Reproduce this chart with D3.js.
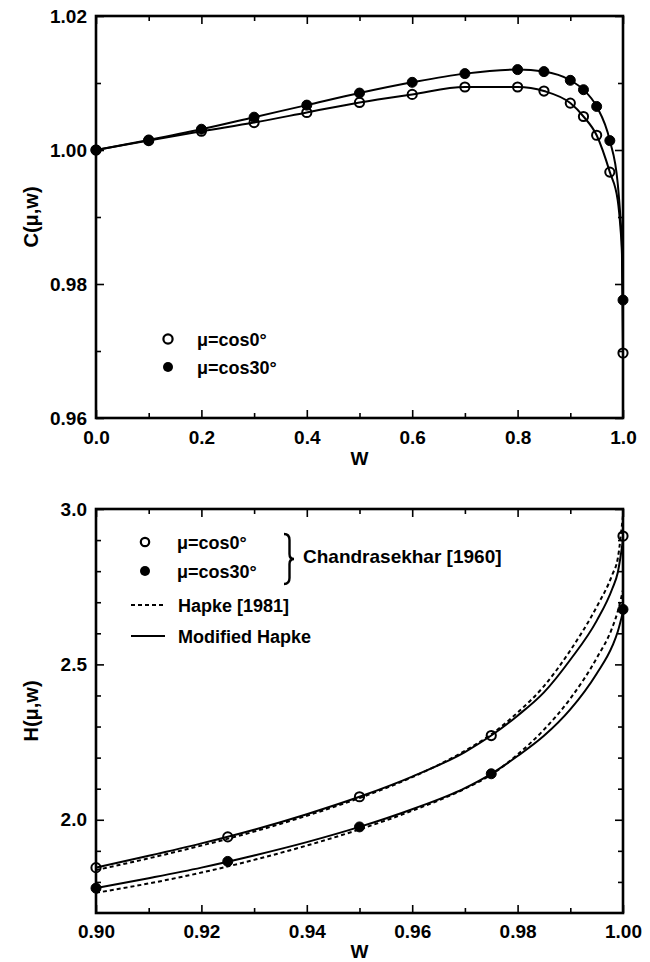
<!DOCTYPE html>
<html>
<head>
<meta charset="utf-8">
<script src="https://cdn.jsdelivr.net/npm/d3@7"></script>
<style>
  html, body { margin: 0; padding: 0; background: #fff; }
  svg { display: block; }
  text { font-family: "Liberation Sans", Arial, Helvetica, sans-serif; font-weight: bold; fill: #000; }
</style>
</head>
<body>
<div id="chart"></div>
<script>
// ---- Upper panel: C(mu, w) against single-scattering albedo w ----
const wTop = [0, 0.1, 0.2, 0.3, 0.4, 0.5, 0.6, 0.7, 0.8, 0.85, 0.9, 0.925, 0.95, 0.975, 1.0];
const cMu0 = [1.000, 1.0014, 1.0028, 1.0041, 1.0056, 1.0071, 1.0083, 1.0094, 1.0094, 1.0088, 1.0070, 1.0050, 1.0022, 0.9967, 0.9697];
const cMu30 = [1.000, 1.0015, 1.0031, 1.0049, 1.0067, 1.0085, 1.0101, 1.0114, 1.0120, 1.0117, 1.0104, 1.0090, 1.0065, 1.0014, 0.9776];
// smooth curves drawn through the markers, with extra points on the steep drop near w = 1
const wTopCurve = [0, 0.1, 0.2, 0.3, 0.4, 0.5, 0.6, 0.7, 0.8, 0.85, 0.9, 0.925, 0.95, 0.975, 0.99, 0.995, 0.998, 1.0];
const cMu0Curve = [1.000, 1.0014, 1.0028, 1.0041, 1.0056, 1.0071, 1.0083, 1.0094, 1.0094, 1.0088, 1.0070, 1.0050, 1.0022, 0.9967, 0.9925, 0.9885, 0.9845, 0.9697];
const cMu30Curve = [1.000, 1.0015, 1.0031, 1.0049, 1.0067, 1.0085, 1.0101, 1.0114, 1.0120, 1.0117, 1.0104, 1.0090, 1.0065, 1.0014, 0.9950, 0.9900, 0.9855, 0.9776];
const topXTicks = [0, 0.2, 0.4, 0.6, 0.8, 1.0];
const topXMinor = [0.1, 0.3, 0.5, 0.7, 0.9];
const topYTicks = [0.96, 0.98, 1.00, 1.02];
const topYMinor = [0.97, 0.99, 1.01];

// ---- Lower panel: H(mu, w) near w = 1 ----
const wBot = [0.90, 0.925, 0.95, 0.975, 1.0];
const hChandraMu0 = [1.846, 1.945, 2.074, 2.271, 2.913];
const hChandraMu30 = [1.780, 1.866, 1.977, 2.148, 2.677];
const wBotCurve = [0.90, 0.91, 0.92, 0.93, 0.94, 0.95, 0.96, 0.97, 0.975, 0.98, 0.985, 0.99, 0.995, 0.998, 0.999, 1.0];
const hHapkeMu0 = [1.838, 1.876, 1.917, 1.962, 2.013, 2.070, 2.137, 2.222, 2.275, 2.345, 2.430, 2.545, 2.685, 2.790, 2.840, 2.980];
const hModMu0 = [1.846, 1.884, 1.924, 1.968, 2.018, 2.074, 2.139, 2.218, 2.271, 2.335, 2.410, 2.515, 2.640, 2.745, 2.795, 2.900];
const hHapkeMu30 = [1.765, 1.795, 1.830, 1.871, 1.917, 1.969, 2.029, 2.100, 2.145, 2.210, 2.290, 2.390, 2.520, 2.620, 2.670, 2.740];
const hModMu30 = [1.780, 1.812, 1.846, 1.885, 1.928, 1.977, 2.034, 2.102, 2.148, 2.205, 2.270, 2.355, 2.470, 2.560, 2.605, 2.670];
const botXTicks = [0.90, 0.92, 0.94, 0.96, 0.98, 1.00];
const botXMinor = [0.91, 0.93, 0.95, 0.97, 0.99];
const botYTicks = [2.0, 2.5, 3.0];
const botYMinor = [1.8, 1.9, 2.1, 2.2, 2.3, 2.4, 2.6, 2.7, 2.8, 2.9];

const W = 650, H = 962;
const svg = d3.select("#chart").append("svg").attr("width", W).attr("height", H);

function frameAxes(g, x, y, o) {
  const [x0, x1] = x.range();
  const [y0, y1] = y.range(); // y0 bottom, y1 top
  const major = 8, minor = 5;
  // bottom axis with labels
  g.append("g").attr("transform", `translate(0,${y0})`)
    .call(d3.axisBottom(x).tickValues(o.xt).tickSizeInner(-major).tickSizeOuter(0)
      .tickPadding(o.xPad).tickFormat(d3.format(o.xf)));
  g.append("g").attr("transform", `translate(0,${y0})`)
    .call(d3.axisBottom(x).tickValues(o.xm).tickSizeInner(-minor).tickSizeOuter(0).tickFormat(""));
  // top axis (ticks only)
  g.append("g").attr("transform", `translate(0,${y1})`)
    .call(d3.axisTop(x).tickValues(o.xt).tickSizeInner(-major).tickSizeOuter(0).tickFormat(""));
  g.append("g").attr("transform", `translate(0,${y1})`)
    .call(d3.axisTop(x).tickValues(o.xm).tickSizeInner(-minor).tickSizeOuter(0).tickFormat(""));
  // left axis with labels
  g.append("g").attr("transform", `translate(${x0},0)`)
    .call(d3.axisLeft(y).tickValues(o.yt).tickSizeInner(-major).tickSizeOuter(0)
      .tickPadding(o.yPad).tickFormat(d3.format(o.yf)));
  g.append("g").attr("transform", `translate(${x0},0)`)
    .call(d3.axisLeft(y).tickValues(o.ym).tickSizeInner(-minor).tickSizeOuter(0).tickFormat(""));
  // right axis (ticks only)
  g.append("g").attr("transform", `translate(${x1},0)`)
    .call(d3.axisRight(y).tickValues(o.yt).tickSizeInner(-major).tickSizeOuter(0).tickFormat(""));
  g.append("g").attr("transform", `translate(${x1},0)`)
    .call(d3.axisRight(y).tickValues(o.ym).tickSizeInner(-minor).tickSizeOuter(0).tickFormat(""));

  g.selectAll(".domain").remove();
  g.selectAll(".tick line").attr("stroke", "#000").attr("stroke-width", 1.6);
  g.selectAll(".tick text").attr("font-size", 19).attr("font-family", null).attr("fill", "#000");
  // plot frame
  g.append("rect").attr("x", x0).attr("y", y1).attr("width", x1 - x0).attr("height", y0 - y1)
    .attr("fill", "none").attr("stroke", "#000").attr("stroke-width", 2.6);
}

function curve(g, x, y, xs, ys, dash) {
  const line = d3.line().x((d, i) => x(xs[i])).y(d => y(d)).curve(d3.curveMonotoneX);
  g.append("path").attr("d", line(ys)).attr("fill", "none").attr("stroke", "#000")
    .attr("stroke-width", 2).attr("stroke-dasharray", dash || null);
}

function markers(g, x, y, xs, ys, filled) {
  g.append("g").selectAll("circle").data(ys).join("circle")
    .attr("cx", (d, i) => x(xs[i])).attr("cy", d => y(d))
    .attr("r", filled ? 5 : 4.6)
    .attr("fill", filled ? "#000" : "none")
    .attr("stroke", "#000").attr("stroke-width", filled ? 1 : 2);
}

// ================= upper panel =================
const xTop = d3.scaleLinear().domain([0, 1]).range([96, 623]);
const yTop = d3.scaleLinear().domain([0.96, 1.02]).range([418, 16]);
const gTop = svg.append("g");
frameAxes(gTop, xTop, yTop, { xt: topXTicks, xm: topXMinor, yt: topYTicks, ym: topYMinor,
  xf: ".1f", yf: ".2f", xPad: 13, yPad: 9 });
curve(gTop, xTop, yTop, wTopCurve, cMu0Curve);
curve(gTop, xTop, yTop, wTopCurve, cMu30Curve);
markers(gTop, xTop, yTop, wTop, cMu0, false);
markers(gTop, xTop, yTop, wTop, cMu30, true);

gTop.append("text").attr("transform", `translate(38,${(16 + 418) / 2}) rotate(-90)`)
  .attr("text-anchor", "middle").attr("font-size", 20).text("C(μ,w)");
gTop.append("text").attr("x", (96 + 623) / 2).attr("y", 465).attr("text-anchor", "middle")
  .attr("font-size", 19).text("W");

// legend
const topLeg = gTop.append("g");
topLeg.append("circle").attr("cx", 168).attr("cy", 339).attr("r", 4.6)
  .attr("fill", "none").attr("stroke", "#000").attr("stroke-width", 2.2);
topLeg.append("circle").attr("cx", 168).attr("cy", 367).attr("r", 5).attr("fill", "#000");
topLeg.append("text").attr("x", 197).attr("y", 346).attr("font-size", 18).text("μ=cos0°");
topLeg.append("text").attr("x", 197).attr("y", 374).attr("font-size", 18).text("μ=cos30°");

// ================= lower panel =================
const xBot = d3.scaleLinear().domain([0.90, 1.00]).range([96, 623]);
const yBot = d3.scaleLinear().domain([1.7, 3.0]).range([913, 509]);
const gBot = svg.append("g");
frameAxes(gBot, xBot, yBot, { xt: botXTicks, xm: botXMinor, yt: botYTicks, ym: botYMinor,
  xf: ".2f", yf: ".1f", xPad: 12, yPad: 9 });
curve(gBot, xBot, yBot, wBotCurve, hHapkeMu0, "4,3");
curve(gBot, xBot, yBot, wBotCurve, hHapkeMu30, "4,3");
curve(gBot, xBot, yBot, wBotCurve, hModMu0);
curve(gBot, xBot, yBot, wBotCurve, hModMu30);
markers(gBot, xBot, yBot, wBot, hChandraMu0, false);
markers(gBot, xBot, yBot, wBot, hChandraMu30, true);

gBot.append("text").attr("transform", `translate(38,${(509 + 913) / 2}) rotate(-90)`)
  .attr("text-anchor", "middle").attr("font-size", 20).text("H(μ,w)");
gBot.append("text").attr("x", (96 + 623) / 2).attr("y", 958).attr("text-anchor", "middle")
  .attr("font-size", 19).text("W");

// legend
const botLeg = gBot.append("g");
botLeg.append("circle").attr("cx", 145).attr("cy", 542).attr("r", 4.2)
  .attr("fill", "none").attr("stroke", "#000").attr("stroke-width", 2.2);
botLeg.append("circle").attr("cx", 145).attr("cy", 571).attr("r", 5).attr("fill", "#000");
botLeg.append("text").attr("x", 177).attr("y", 549).attr("font-size", 18).text("μ=cos0°");
botLeg.append("text").attr("x", 177).attr("y", 578).attr("font-size", 18).text("μ=cos30°");
// curly brace grouping the two marker entries
(function brace(x, yTopB, yBotB, w) {
  const ym = (yTopB + yBotB) / 2;
  const p = d3.path();
  p.moveTo(x, yTopB);
  p.quadraticCurveTo(x + w * 0.55, yTopB, x + w * 0.55, yTopB + 6);
  p.lineTo(x + w * 0.55, ym - 5);
  p.quadraticCurveTo(x + w * 0.55, ym, x + w, ym);
  p.quadraticCurveTo(x + w * 0.55, ym, x + w * 0.55, ym + 5);
  p.lineTo(x + w * 0.55, yBotB - 6);
  p.quadraticCurveTo(x + w * 0.55, yBotB, x, yBotB);
  botLeg.append("path").attr("d", p.toString()).attr("fill", "none")
    .attr("stroke", "#000").attr("stroke-width", 2.4);
})(284, 534, 584, 10);
botLeg.append("text").attr("x", 303).attr("y", 563).attr("font-size", 19).text("Chandrasekhar [1960]");
botLeg.append("line").attr("x1", 131).attr("x2", 165).attr("y1", 605).attr("y2", 605)
  .attr("stroke", "#000").attr("stroke-width", 2).attr("stroke-dasharray", "4,3");
botLeg.append("text").attr("x", 178).attr("y", 612).attr("font-size", 18).text("Hapke [1981]");
botLeg.append("line").attr("x1", 131).attr("x2", 165).attr("y1", 636).attr("y2", 636)
  .attr("stroke", "#000").attr("stroke-width", 2);
botLeg.append("text").attr("x", 178).attr("y", 643).attr("font-size", 18).text("Modified Hapke");
</script>
</body>
</html>
